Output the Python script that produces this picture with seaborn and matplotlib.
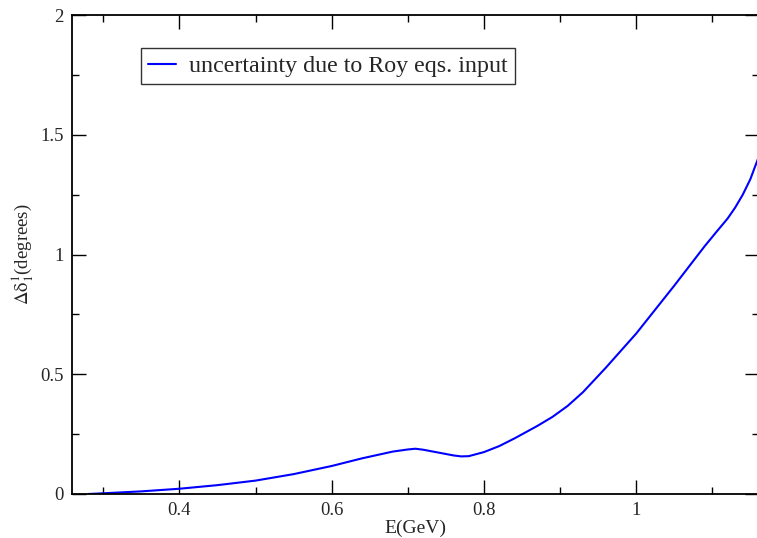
import matplotlib
matplotlib.use("Agg")
import matplotlib.pyplot as plt
from matplotlib.ticker import MultipleLocator, FuncFormatter
import seaborn as sns
import pandas as pd

# Data
energy = [0.28, 0.30, 0.35, 0.40, 0.45, 0.50, 0.55, 0.60, 0.64, 0.68, 0.70, 0.71,
          0.72, 0.74, 0.76, 0.77, 0.78, 0.80, 0.82, 0.84, 0.87, 0.89, 0.91, 0.93,
          0.96, 1.00, 1.03, 1.05, 1.09, 1.105, 1.12, 1.13, 1.14, 1.15, 1.16]
delta_unc = [0.0, 0.003, 0.011, 0.022, 0.037, 0.056, 0.083, 0.117, 0.149, 0.177, 0.186, 0.189,
             0.185, 0.173, 0.161, 0.157, 0.158, 0.175, 0.200, 0.232, 0.284, 0.322, 0.368, 0.425,
             0.527, 0.670, 0.790, 0.870, 1.035, 1.093, 1.150, 1.196, 1.250, 1.315, 1.400]
series_label = "uncertainty due to Roy eqs. input"
x_ticks = [0.4, 0.6, 0.8, 1.0]
y_ticks = [0, 0.5, 1, 1.5, 2]

sns.set_style("ticks")
plt.rcParams["font.family"] = ["Liberation Serif", "DejaVu Serif"]
plt.rcParams["mathtext.fontset"] = "stix"

df = pd.DataFrame({"E": energy, "d": delta_unc, "s": series_label})

fig = plt.figure(figsize=(7.57, 5.38), dpi=100)
ax = fig.add_axes([72 / 757, 1 - 494 / 538, (759 - 72) / 757, (494 - 15) / 538])

sns.lineplot(data=df, x="E", y="d", hue="s", palette=["#0000ff"], ax=ax,
             linewidth=1.5, legend=True, sort=False)

ax.set_xlim(0.2588, 1.1613)
ax.set_ylim(0, 2)
ax.set_xticks(x_ticks)
ax.set_yticks(y_ticks)
ax.xaxis.set_minor_locator(MultipleLocator(0.1))
ax.yaxis.set_minor_locator(MultipleLocator(0.25))
fmt = FuncFormatter(lambda v, p: f"{v:g}")
ax.xaxis.set_major_formatter(fmt)
ax.yaxis.set_major_formatter(fmt)

ax.tick_params(which="both", direction="in", top=True, right=True, color="black", width=1.0)
ax.tick_params(which="major", length=10, labelsize=13.5, pad=6)
ax.tick_params(which="minor", length=5)
for sp in ax.spines.values():
    sp.set_linewidth(1.3)
    sp.set_color("black")

ax.set_xlabel("E(GeV)", fontsize=14, labelpad=0)
ax.set_ylabel(r"$\mathrm{\Delta\delta}_1^1$(degrees)", fontsize=13.5, labelpad=3)

leg = ax.legend(loc="upper left", bbox_to_anchor=(0.1004, 0.931), frameon=True, fancybox=False,
                fontsize=17.3, handlelength=1.17, handletextpad=0.54, borderpad=0.3,
                borderaxespad=0)
leg.get_frame().set_edgecolor("black")
leg.get_frame().set_linewidth(1.0)
for h in leg.get_lines():
    h.set_linewidth(1.5)

fig.savefig("out.png", dpi=100)
